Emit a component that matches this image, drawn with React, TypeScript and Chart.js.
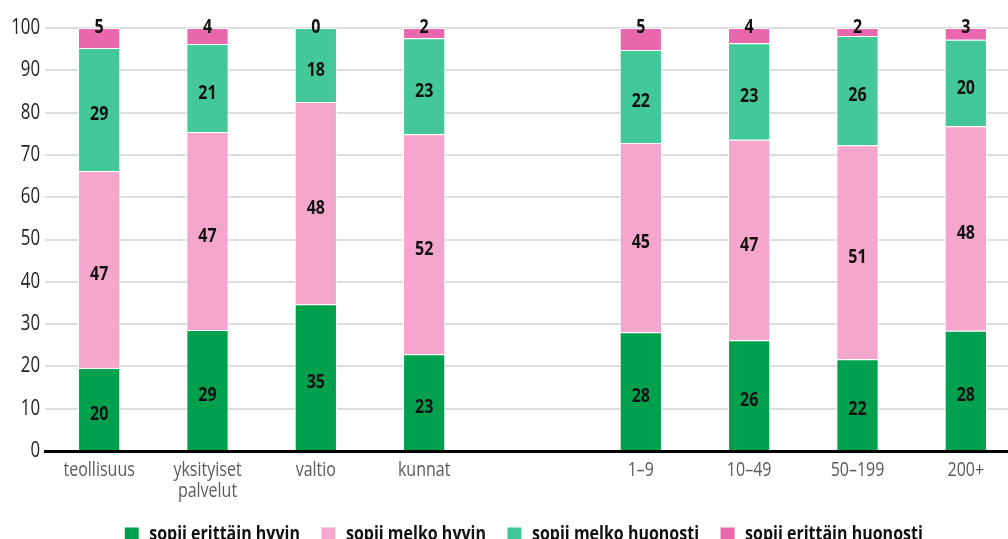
import React, { useEffect, useRef } from "react";
import { Chart, registerables } from "chart.js";

Chart.register(...registerables);

const categories: (string | string[])[] = [
  "teollisuus",
  ["yksityiset", "palvelut"],
  "valtio",
  "kunnat",
  "",
  "1–9",
  "10–49",
  "50–199",
  "200+",
];

const seriesNames = [
  "sopii erittäin hyvin",
  "sopii melko hyvin",
  "sopii melko huonosti",
  "sopii erittäin huonosti",
];

const seriesColors = ["#00a04f", "#f4a6cd", "#44c899", "#e967ac"];

// bar heights
const veryWell = [19.6, 28.6, 34.7, 22.9, null, 28.1, 26.2, 21.7, 28.4];
const fairlyWell = [46.6, 46.8, 47.8, 52.0, null, 44.7, 47.4, 50.6, 48.4];
const fairlyPoorly = [29.1, 20.8, 17.5, 22.7, null, 22.0, 22.8, 25.8, 20.4];
const veryPoorly = [4.7, 3.8, 0, 2.4, null, 5.2, 3.6, 1.9, 2.8];

// printed labels
const veryWellLabels = [20, 29, 35, 23, null, 28, 26, 22, 28];
const fairlyWellLabels = [47, 47, 48, 52, null, 45, 47, 51, 48];
const fairlyPoorlyLabels = [29, 21, 18, 23, null, 22, 23, 26, 20];
const veryPoorlyLabels = [5, 4, 0, 2, null, 5, 4, 2, 3];

const yTicks = [0, 10, 20, 30, 40, 50, 60, 70, 80, 90, 100];

const FONT = "'Open Sans', 'Noto Sans', sans-serif";
const NARROW = 0.8; // horizontal squeeze to imitate a condensed face

const segmentLabels = [veryWellLabels, fairlyWellLabels, fairlyPoorlyLabels, veryPoorlyLabels];

const valueLabelPlugin = {
  id: "valueLabels",
  afterDatasetsDraw(chart: any) {
    const ctx = chart.ctx;
    const last = chart.data.datasets.length - 1;
    ctx.save();
    ctx.font = `bold 20px ${FONT}`;
    ctx.fillStyle = "#111111";
    ctx.textAlign = "center";
    ctx.textBaseline = "middle";
    chart.data.datasets.forEach((_ds: any, di: number) => {
      const meta = chart.getDatasetMeta(di);
      meta.data.forEach((bar: any, i: number) => {
        const lbl = segmentLabels[di][i];
        if (lbl === null || lbl === undefined) return;
        const { x, y, base } = bar.getProps(["x", "y", "base"], true);
        const ly = di === last ? y - 1 : (y + base) / 2 + 5;
        ctx.fillText(String(lbl), x, ly);
      });
    });
    ctx.restore();
  },
};

const legendShiftPlugin = {
  id: "legendShift",
  afterLayout(chart: any) {
    const lg = chart.legend;
    if (!lg) return;
    lg.left -= 9;
    lg.right -= 9;
    if (typeof lg.adjustHitBoxes === "function") lg.adjustHitBoxes();
  },
};

function condenseContext(ctx: CanvasRenderingContext2D) {
  const origFill = ctx.fillText.bind(ctx);
  const origMeasure = ctx.measureText.bind(ctx);
  (ctx as any).fillText = (text: string, x: number, y: number, maxWidth?: number) => {
    ctx.save();
    ctx.translate(x, y);
    ctx.scale(NARROW, 1);
    if (maxWidth === undefined) origFill(text, 0, 0);
    else origFill(text, 0, 0, maxWidth / NARROW);
    ctx.restore();
  };
  (ctx as any).measureText = (text: string) => {
    const m = origMeasure(text);
    return {
      width: m.width * NARROW,
      actualBoundingBoxAscent: m.actualBoundingBoxAscent,
      actualBoundingBoxDescent: m.actualBoundingBoxDescent,
      actualBoundingBoxLeft: m.actualBoundingBoxLeft * NARROW,
      actualBoundingBoxRight: m.actualBoundingBoxRight * NARROW,
      fontBoundingBoxAscent: m.fontBoundingBoxAscent,
      fontBoundingBoxDescent: m.fontBoundingBoxDescent,
    };
  };
}

export default function App() {
  const ref = useRef<HTMLCanvasElement | null>(null);

  useEffect(() => {
    const canvas = ref.current;
    if (!canvas) return;
    const c2d = canvas.getContext("2d");
    if (c2d) condenseContext(c2d);
    const data = [veryWell, fairlyWell, fairlyPoorly, veryPoorly];
    const chart = new Chart(canvas, {
      type: "bar",
      data: {
        labels: categories,
        datasets: data.map((d, i) => ({
          label: seriesNames[i],
          data: d,
          backgroundColor: seriesColors[i],
          borderColor: "#ffffff",
          borderWidth: 1,
          barPercentage: 0.39,
          categoryPercentage: 1,
        })),
      },
      options: {
        animation: false,
        responsive: false,
        layout: { padding: { left: 0, right: 0, top: 28, bottom: 0 } },
        plugins: {
          tooltip: { enabled: false },
          legend: {
            position: "bottom",
            fullSize: false,
            labels: {
              boxWidth: 15,
              boxHeight: 14,
              padding: 21,
              color: "#111111",
              font: { family: FONT, size: 20, weight: "bold" },
            },
          },
        },
        scales: {
          x: {
            stacked: true,
            z: 1,
            grid: { display: false, drawTicks: false },
            border: { display: true, color: "#000000", width: 3 },
            ticks: {
              padding: 8,
              color: "#5a5a5a",
              font: { family: FONT, size: 20, lineHeight: 1.08 },
              maxRotation: 0,
              autoSkip: false,
            },
            afterFit: (s: any) => {
              s.height = 52;
            },
          },
          y: {
            stacked: true,
            min: 0,
            max: 100,
            afterBuildTicks: (s: any) => {
              s.ticks = yTicks.map((v) => ({ value: v }));
            },
            grid: { color: "#dddddd", lineWidth: 2, drawTicks: false },
            border: { display: false },
            ticks: {
              padding: 5,
              color: "#222222",
              font: { family: FONT, size: 21 },
            },
            afterFit: (s: any) => {
              s.width = 45;
            },
          },
        },
      },
      plugins: [valueLabelPlugin, legendShiftPlugin],
    });
    return () => chart.destroy();
  }, []);

  return (
    <div
      style={{
        position: "fixed",
        left: 0,
        top: 0,
        width: 1008,
        height: 539,
        overflow: "hidden",
        background: "#ffffff",
      }}
    >
      <canvas ref={ref} width={1020} height={554} style={{ display: "block" }} />
    </div>
  );
}
